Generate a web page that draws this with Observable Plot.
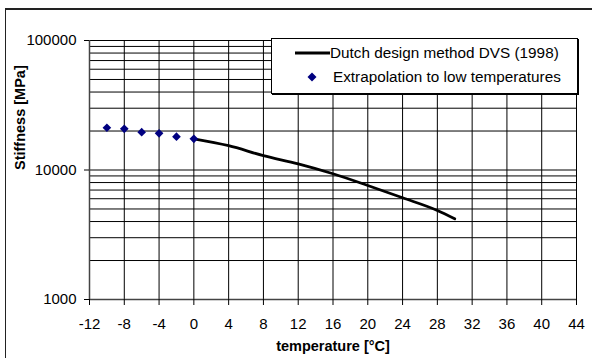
<!DOCTYPE html>
<html>
<head>
<meta charset="utf-8">
<script src="https://cdn.jsdelivr.net/npm/d3@7"></script>
<script src="https://cdn.jsdelivr.net/npm/@observablehq/plot@0.6"></script>
<style>
  html, body { margin: 0; padding: 0; background: #fff; overflow: hidden; }
  #wrap { position: relative; width: 592px; height: 358px; overflow: hidden; font-family: "Liberation Sans", Arial, sans-serif; }
  #border { position: absolute; left: 5px; top: 8px; width: 620px; height: 400px; border-left: 1.5px solid #222; border-top: 2px solid #222; }
  #chart { position: absolute; left: 0; top: 0; }
  #legend { position: absolute; left: 271px; top: 38px; width: 305px; height: 54px; border: 1px solid #000; background: #fff; box-shadow: 1px 1px 0 #000; font-size: 15.3px; color: #000; }
  #legend .item { position: absolute; left: 0; width: 100%; height: 20px; }
  #legend svg { position: absolute; left: 0; top: 0; }
  #legend span { position: absolute; white-space: nowrap; line-height: 20px; }
</style>
</head>
<body>
<div id="wrap">
  <div id="border"></div>
  <div id="chart"></div>
  <div id="legend"></div>
</div>
<script>
// ---- data ----
const extrapTemps = [-10, -8, -6, -4, -2, 0];
const extrapStiff = [21200, 20800, 19600, 19200, 18100, 17400];
const dvsTemps = [0, 4, 8, 12, 16, 20, 24, 28, 30];
const dvsStiff = [17400, 15400, 12900, 11150, 9350, 7590, 6100, 4870, 4200];
const xTicks = [-12, -8, -4, 0, 4, 8, 12, 16, 20, 24, 28, 32, 36, 40, 44];
const yTicks = [1000, 10000, 100000];
const yGrid = [1000,2000,3000,4000,5000,6000,7000,8000,9000,10000,20000,30000,40000,50000,60000,70000,80000,90000,100000];
const seriesNames = ["Dutch design method DVS (1998)", "Extrapolation to low temperatures"];
const xTitle = "temperature [°C]";
const yTitle = "Stiffness [MPa]";

const dvs = dvsTemps.map((t, i) => ({t, s: dvsStiff[i]}));
const extrap = extrapTemps.map((t, i) => ({t, s: extrapStiff[i]}));

const chart = Plot.plot({
  width: 592,
  height: 358,
  marginLeft: 89,
  marginRight: 16,
  marginTop: 40,
  marginBottom: 59,
  style: { fontFamily: "'Liberation Sans', Arial, sans-serif", fontSize: "15px", color: "#000", background: "transparent" },
  x: { type: "linear", domain: [-12, 44] },
  y: { type: "log", domain: [1000, 100000] },
  marks: [
    Plot.gridX(xTicks, { stroke: "#000", strokeOpacity: 1, strokeWidth: 1 }),
    Plot.gridY(yGrid, { stroke: "#000", strokeOpacity: 1, strokeWidth: 1 }),
    Plot.ruleX([-12], { stroke: "#444", strokeWidth: 1.5 }),
    Plot.ruleY([1000], { stroke: "#444", strokeWidth: 1.5 }),
    Plot.axisX({ ticks: xTicks, tickSize: 6, tickFormat: () => "", label: null }),
    Plot.axisY({ ticks: yTicks, tickSize: 5, tickFormat: () => "", label: null }),
    Plot.text(xTicks, { x: d => d, frameAnchor: "bottom", lineAnchor: "top", dy: 18.5, text: d => String(d), fontSize: 15, fill: "#000" }),
    Plot.text(yTicks, { y: d => d, frameAnchor: "left", textAnchor: "end", dx: -13, text: d => String(d), fontSize: 15, fill: "#000" }),
    Plot.line(dvs, { x: "t", y: "s", stroke: "#000", strokeWidth: 2.8, curve: "monotone-x" }),
    Plot.dot(extrap, { x: "t", y: "s", symbol: "diamond2", r: 3.9, fill: "#000080", stroke: "none" }),
    Plot.text([xTitle], { frameAnchor: "bottom", lineAnchor: "bottom", dy: 51, text: d => d, fontWeight: "bold", fontSize: 14.5 }),
    Plot.text([yTitle], { frameAnchor: "left", rotate: -90, dx: -69, text: d => d, fontWeight: "bold", fontSize: 14.5 })
  ]
});
document.getElementById("chart").appendChild(chart);

// ---- legend ----
const legend = document.getElementById("legend");
legend.innerHTML = `
  <div class="item" style="top:4px">
    <svg width="60" height="20"><line x1="23" x2="58" y1="10" y2="10" stroke="#000" stroke-width="2.8"/></svg>
    <span style="left:58px">${seriesNames[0]}</span>
  </div>
  <div class="item" style="top:28px">
    <svg width="60" height="20"><path d="M40,5.5 L44.5,10 L40,14.5 L35.5,10 Z" fill="#000080"/></svg>
    <span style="left:61px">${seriesNames[1]}</span>
  </div>`;
</script>
</body>
</html>
